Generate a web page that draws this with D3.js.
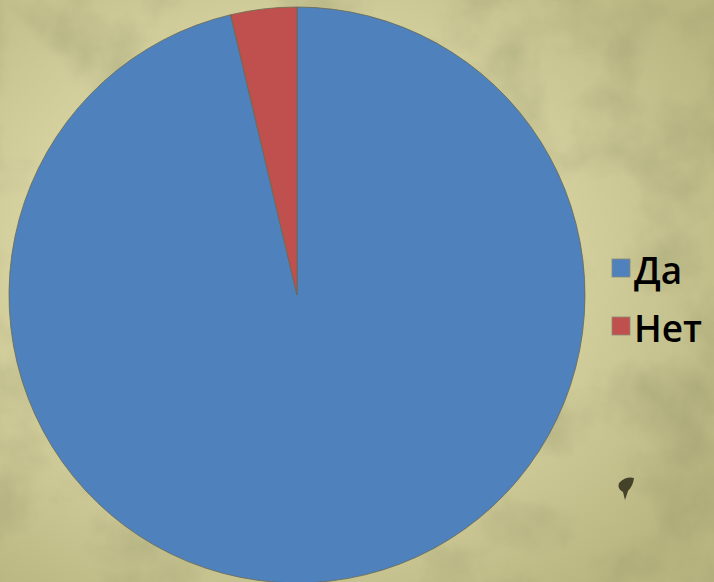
<!DOCTYPE html>
<html>
<head>
<meta charset="utf-8">
<script src="https://cdn.jsdelivr.net/npm/d3@7"></script>
<style>
  body { margin: 0; background: #d2ce9c; }
  svg { display: block; }
</style>
</head>
<body>
<div id="chart"></div>
<script>
const categories = ["Да", "Нет"];
const values = [96.3, 3.7];
const colors = ["#4f81bd", "#c0504d"];

const W = 714, H = 582;
const cx = 297, cy = 295, radius = 288;

const svg = d3.select("#chart").append("svg")
    .attr("width", W)
    .attr("height", H);

const defs = svg.append("defs");

// parchment mottling
const filt = defs.append("filter")
    .attr("id", "paper")
    .attr("x", 0).attr("y", 0)
    .attr("width", "100%").attr("height", "100%");
filt.append("feTurbulence")
    .attr("type", "fractalNoise")
    .attr("baseFrequency", "0.011")
    .attr("numOctaves", 5)
    .attr("seed", 3)
    .attr("result", "noise");
filt.append("feColorMatrix")
    .attr("in", "noise")
    .attr("type", "matrix")
    .attr("values", "0 0 0 0 0.42  0 0 0 0 0.41  0 0 0 0 0.22  -2.6 0 0 0 1.45");

const vign = defs.append("radialGradient")
    .attr("id", "vign")
    .attr("cx", "40%").attr("cy", "45%").attr("r", "70%");
vign.append("stop").attr("offset", "50%").attr("stop-color", "#8c8850").attr("stop-opacity", 0);
vign.append("stop").attr("offset", "100%").attr("stop-color", "#8c8850").attr("stop-opacity", 0.4);

svg.append("rect")
    .attr("width", W).attr("height", H)
    .attr("fill", "#d8d4a2");
svg.append("rect")
    .attr("width", W).attr("height", H)
    .attr("filter", "url(#paper)")
    .attr("opacity", 0.6);
svg.append("rect")
    .attr("width", W).attr("height", H)
    .attr("fill", "url(#vign)");

// ink blot
svg.append("path")
    .attr("d", "M619,483 Q626,476 634,478 Q633,486 628,491 L625,500 L623,492 Q617,489 619,483 Z")
    .attr("fill", "#2e2d18")
    .attr("opacity", 0.85);

const pie = d3.pie().sort(null).value(d => d.value);
const arc = d3.arc().innerRadius(0).outerRadius(radius);

const data = categories.map((c, i) => ({ name: c, value: values[i] }));

svg.append("g")
    .attr("transform", `translate(${cx}, ${cy})`)
    .selectAll("path")
    .data(pie(data))
    .enter()
    .append("path")
    .attr("d", arc)
    .attr("fill", (d, i) => colors[i])
    .attr("stroke", "#6a6a52")
    .attr("stroke-width", 0.8);

// legend
const legend = svg.append("g")
    .attr("transform", "translate(612, 268)")
    .selectAll("g")
    .data(categories)
    .enter()
    .append("g")
    .attr("transform", (d, i) => `translate(0, ${i * 58})`);

legend.append("rect")
    .attr("x", 0)
    .attr("y", -9)
    .attr("width", 18)
    .attr("height", 18)
    .attr("fill", (d, i) => colors[i])
    .attr("stroke", "#8a8a78")
    .attr("stroke-width", 0.8);

legend.append("text")
    .attr("x", 22)
    .attr("y", 16)
    .attr("font-family", "'Open Sans', sans-serif")
    .attr("font-size", 37)
    .attr("font-weight", 600)
    .attr("fill", "#000")
    .text(d => d);
</script>
</body>
</html>
